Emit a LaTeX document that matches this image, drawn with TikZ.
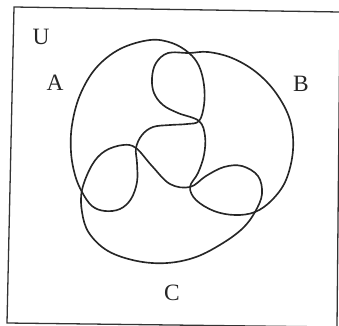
\documentclass[tikz,border=0pt]{standalone}
\usepackage{fontspec}
\setmainfont{Liberation Serif}
\usepackage{tikz}
\usetikzlibrary{positioning, calc}

\tikzset{
  vennline/.style={line width=1.4pt, black!85},
  setlabel/.style={font=\fontsize{20}{22}\selectfont, text=black!85, inner sep=0pt}
}

\begin{document}
\begin{tikzpicture}[x=0.03cm, y=-0.03cm]
  \useasboundingbox (0,0) rectangle (339,325);
  % Universe frame (slightly tilted, as scanned)
  \draw[line width=1.1pt, black!80] (14,7) -- (340,12) -- (337,327) -- (7,323) -- cycle;
  % Set A
  \draw[vennline] plot[smooth cycle, tension=0.6] coordinates {
    (150,40) (120,49) (96,68) (80,95) (72,125) (71,152) (75,175) (82,192)
    (92,206) (105,211) (120,209) (131,199) (137,182) (137,163) (136,148)
    (142,135) (153,127) (170,125) (187,124) (199,121) (204,105) (204,85)
    (199,66) (189,53) (172,43)};
  % Set B
  \draw[vennline] plot[smooth cycle, tension=0.6] coordinates {
    (189,53) (168,53) (156,63) (152,78) (154,93) (163,105) (178,113)
    (199,121) (205,136) (204,155) (198,173) (190,187) (196,200) (214,211)
    (235,215) (255,212) (272,200) (286,180) (293,150) (290,120) (276,93)
    (256,72) (232,58) (208,52)};
  % Set C
  \draw[vennline] plot[smooth cycle, tension=0.6] coordinates {
    (255,212) (262,194) (258,176) (242,166) (224,167) (206,176) (190,187)
    (170,184) (152,166) (136,148) (123,145) (105,151) (92,165) (82,190)
    (82,212) (89,233) (108,251) (137,261) (167,263) (196,257) (223,243)
    (243,228)};
  % Labels
  \node[setlabel] (labU) at (41,37) {U};
  \node[setlabel] (labA) at (55,83) {A};
  \node[setlabel] (labB) at (301,84) {B};
  \node[setlabel] (labC) at (172,293) {C};
\end{tikzpicture}
\end{document}
